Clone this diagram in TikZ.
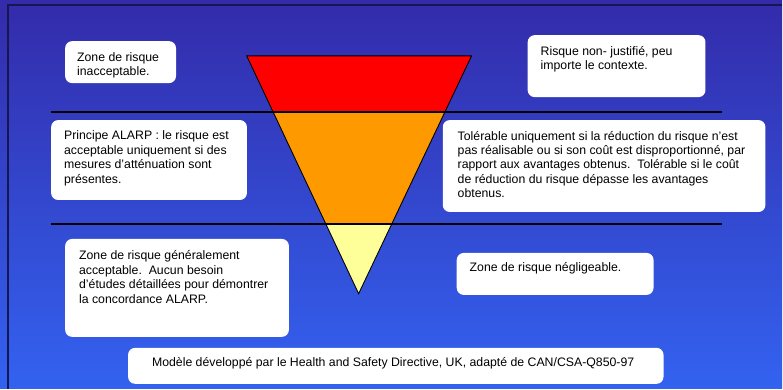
\documentclass[tikz,border=0pt]{standalone}
\usepackage{fontspec}
\setmainfont{Liberation Sans}
\usetikzlibrary{positioning,calc}

\definecolor{fondhaut}{RGB}{51,43,170}
\definecolor{fondbas}{RGB}{51,98,240}
\definecolor{cadre}{RGB}{22,22,80}
\definecolor{rouge}{RGB}{255,0,0}
\definecolor{orangezone}{RGB}{255,153,0}
\definecolor{jaune}{RGB}{255,255,153}

\begin{document}
\begin{tikzpicture}[x=1pt,y=-1pt,
		bulle/.style={fill=white, rounded corners=7pt, anchor=north west, inner sep=0pt},
		texte/.style={anchor=north west, align=left, inner sep=0pt, font=\fontsize{12.3}{14.4}\selectfont}]
		% fond et cadre
		\shade[top color=fondhaut, bottom color=fondbas] (0,0) rectangle (783,389);
		\draw[cadre, line width=1.6pt] (8,389) -- (8,5) -- (783,5);
		
		% triangle des risques
		\coordinate (g) at (247,56);
		\coordinate (d) at (472,56);
		\coordinate (s) at (359,294);
		\coordinate (g1) at ($(g)!0.2353!(s)$);
		\coordinate (d1) at ($(d)!0.2353!(s)$);
		\coordinate (g2) at ($(g)!0.7059!(s)$);
		\coordinate (d2) at ($(d)!0.7059!(s)$);
		\fill[rouge] (g) -- (d) -- (d1) -- (g1) -- cycle;
		\fill[orangezone] (g1) -- (d1) -- (d2) -- (g2) -- cycle;
		\fill[jaune] (g2) -- (d2) -- (s) -- cycle;
		\draw[line width=0.9pt, line join=miter] (g) -- (d) -- (s) -- cycle;
		
		% limites des zones
		\draw[line width=2.4pt] (51,112) -- (723,112);
		\draw[line width=2.4pt] (51,224) -- (723,224);
		
		% bulles
		\node[bulle, minimum width=111pt, minimum height=42pt] (b1) at (65,41) {};
		\node[bulle, minimum width=178pt, minimum height=62pt] (b2) at (528,35) {};
		\node[bulle, minimum width=196pt, minimum height=80pt] (b3) at (51,120) {};
		\node[bulle, minimum width=323pt, minimum height=92pt] (b4) at (443,120) {};
		\node[bulle, minimum width=224pt, minimum height=98pt] (b5) at (65,239) {};
		\node[bulle, minimum width=197pt, minimum height=42pt] (b6) at (457,253) {};
		\node[bulle, minimum width=536pt, minimum height=36pt] (b7) at (128,348) {};
		
		\node[texte, below right=11pt and 12pt of b1.north west] (t1) {Zone de risque\\inacceptable.};
		\node[texte, below right=11pt and 13pt of b2.north west] (t2) {Risque non- justifié, peu\\importe le contexte.};
		\node[texte, below right=11pt and 13pt of b3.north west] (t3) {Principe ALARP : le risque est\\acceptable uniquement si des\\mesures d’atténuation sont\\présentes.};
		\node[texte, below right=11pt and 15pt of b4.north west] (t4) {Tolérable uniquement si la réduction du risque n’est\\pas réalisable ou si son coût est disproportionné, par\\rapport aux avantages obtenus.\ \ Tolérable si le coût\\de réduction du risque dépasse les avantages\\obtenus.};
		\node[texte, below right=12pt and 14pt of b5.north west] (t5) {Zone de risque généralement\\acceptable.\ \ Aucun besoin\\d’études détaillées pour démontrer\\la concordance ALARP.};
		\node[texte, below right=10pt and 13pt of b6.north west] (t6) {Zone de risque négligeable.};
		\node[texte, below right=10pt and 24pt of b7.north west] (t7) {Modèle développé par le Health and Safety Directive, UK, adapté de CAN/CSA-Q850-97};
\end{tikzpicture}
\end{document}
